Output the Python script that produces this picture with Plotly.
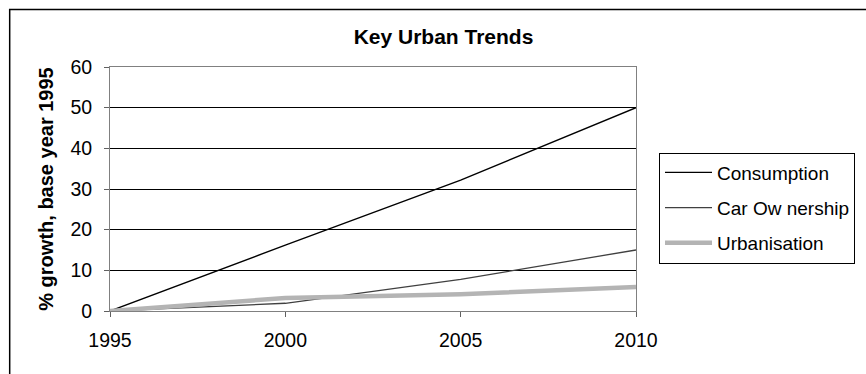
import plotly.graph_objects as go

years = [1995, 2000, 2005, 2010]
consumption = [0, 16.2, 32.2, 50]
car_ownership = [0, 1.9, 7.8, 15]
urbanisation = [0, 3.2, 4.1, 5.9]
series_names = ["Consumption", "Car Ow nership", "Urbanisation"]
y_ticks = [0, 10, 20, 30, 40, 50, 60]

FONT = "Liberation Sans, Arial, sans-serif"
W, H = 866, 374
L, R, T, B = 110, 229, 67, 63
PW, PH = W - L - R, H - T - B

def px_x(p):
    return (p - L) / PW

def px_y(p):
    return (H - B - p) / PH

fig = go.Figure()
fig.add_trace(go.Scatter(x=years, y=consumption, mode="lines", name=series_names[0],
                         legendgroup="a", line=dict(color="#000000", width=1.4)))
fig.add_trace(go.Scatter(x=years, y=car_ownership, mode="lines", name=series_names[1],
                         legendgroup="b", line=dict(color="#404040", width=1.3)))
fig.add_trace(go.Scatter(x=years, y=urbanisation, mode="lines", name=series_names[2],
                         legendgroup="c", line=dict(color="#b4b4b4", width=4.5)))

fig.update_layout(
    width=W, height=H,
    margin=dict(l=L, r=R, t=T, b=B, pad=0),
    paper_bgcolor="white", plot_bgcolor="white",
    font=dict(family=FONT, size=19, color="black"),
    title=dict(text="<b>Key Urban Trends</b>", x=443.5 / W, xanchor="center",
               y=1 - 36.5 / H, yanchor="middle", font=dict(family=FONT, size=21, color="black")),
    showlegend=True,
    legend=dict(x=px_x(659), y=px_y(152.5), xanchor="left", yanchor="top",
                bordercolor="black", borderwidth=1, bgcolor="white",
                font=dict(family=FONT, size=19, color="black"),
                tracegroupgap=7.5, itemwidth=47),
    xaxis=dict(range=[1995, 2010], tickvals=years, ticktext=[str(y) for y in years],
               showgrid=False, zeroline=False, showline=True, linecolor="#808080", linewidth=1,
               mirror=True, ticks="outside", ticklen=5, tickcolor="#606060",
               ticklabelstandoff=7, tickfont=dict(family=FONT, size=19.5, color="black")),
    yaxis=dict(range=[0, 60], tickvals=y_ticks, showgrid=True, gridcolor="black", gridwidth=1,
               zeroline=True, zerolinecolor="black", zerolinewidth=1,
               showline=True, linecolor="#808080", linewidth=1, mirror=True,
               ticks="outside", ticklen=5, tickcolor="#606060",
               ticklabelstandoff=8, tickfont=dict(family=FONT, size=19.5, color="black"),
               title=dict(text="<b>% growth, base year 1995</b>", standoff=11,
                          font=dict(family=FONT, size=20, color="black"))),
    shapes=[dict(type="rect", xref="paper", yref="paper",
                 x0=px_x(9.5), x1=px_x(W + 20), y0=px_y(H + 20), y1=px_y(9.5),
                 line=dict(color="black", width=1.5), fillcolor="rgba(0,0,0,0)", layer="below")],
)

fig.write_html("out.html")
